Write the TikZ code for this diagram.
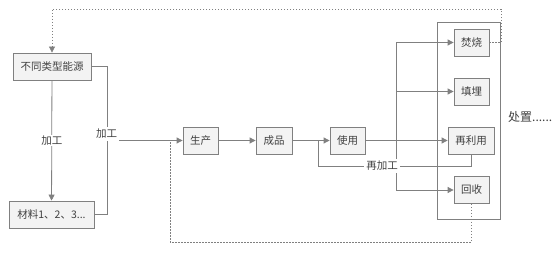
\documentclass[tikz,border=0pt]{standalone}
\usepackage{fontspec}
\setmainfont{Noto Sans CJK SC}
\usetikzlibrary{arrows.meta,calc}
\definecolor{ln}{HTML}{808080}
\definecolor{bx}{HTML}{F3F3F3}
\definecolor{tx}{HTML}{404040}
\tikzset{
  box/.style={draw=ln, fill=bx, line width=0.8pt, minimum height=27pt, inner sep=0pt, text=tx, font=\fontsize{10.5}{12}\selectfont},
  lbl/.style={fill=white, text=tx, inner sep=1pt, font=\fontsize{10.5}{12}\selectfont},
  conn/.style={draw=ln, line width=0.8pt},
  arr/.style={conn, -{Triangle[length=6pt,width=6pt]}},
  dsh/.style={draw=ln, line width=0.7pt, dash pattern=on 1.5pt off 1.5pt}
}
\begin{document}
\begin{tikzpicture}[x=1pt,y=-1pt]
\useasboundingbox (0,0) rectangle (554,256);
\node[draw=ln, line width=0.8pt, fill=white, minimum width=63pt, minimum height=197pt, inner sep=0pt] (cont) at (468.5,120.5) {};
\node[box, minimum width=78pt] (energy) at (52,66.5) {不同类型能源};
\node[box, minimum width=85pt] (mat) at (51.5,214.5) {材料1、2、3...};
\node[box, minimum width=35pt] (prod) at (200.5,140.5) {生产};
\node[box, minimum width=36pt] (fin) at (274,140.5) {成品};
\node[box, minimum width=35pt] (use) at (347.5,140.5) {使用};
\node[box, minimum width=35pt] (burn) at (471.5,42.5) {焚烧};
\node[box, minimum width=35pt] (land) at (471.5,91.5) {填埋};
\node[box, minimum width=46pt] (reuse) at (471,140.5) {再利用};
\node[box, minimum width=35pt] (recy) at (471.5,190) {回收};
\node[text=tx, font=\fontsize{12}{14}\selectfont, anchor=west, inner sep=0pt] (dispose) at (508,117) {处置......};
% left processing
\draw[arr] (energy) -- node[lbl] (lab1) {加工} (mat);
\coordinate (rx) at (107,0);
\draw[conn] (energy.east) -- (energy.east -| rx) -- (mat.east -| rx) -- (mat.east);
\node[lbl, inner sep=2pt] (lab2) at (106.5,134) {加工};
\draw[arr] (lab2.east |- prod.west) -- (prod.west);
\draw[arr] (prod) -- (fin);
\draw[arr] (fin) -- (use);
\draw[arr] (use) -- (reuse);
% distribution
\coordinate (vx) at (396,0);
\draw[conn] (vx |- burn.west) -- (vx |- recy.west);
\draw[arr] (vx |- burn.west) -- (burn.west);
\draw[arr] (vx |- land.west) -- (land.west);
\draw[arr] (vx |- recy.west) -- (recy.west);
% reprocess
\coordinate (rp) at (318,166);
\coordinate (rpj) at (318,140.5);
\draw[conn] (reuse.south) -- (reuse.south |- rp) -- (rp) -- (rpj);
\node[lbl, inner sep=2pt] (lab3) at (382,166) {再加工};
% dashed loops
\coordinate (dl) at (170,242);
\coordinate (dj) at (170,140.5);
\draw[dsh] (recy.south) -- (recy.south |- dl) -- (dl) -- (dj);
\coordinate (tr) at (501,9);
\draw[dsh, -{Triangle[length=6pt,width=6pt]}] (burn.east) -- (burn.east -| tr) -- (tr) -- (tr -| energy.north) -- (energy.north);
\end{tikzpicture}
\end{document}
